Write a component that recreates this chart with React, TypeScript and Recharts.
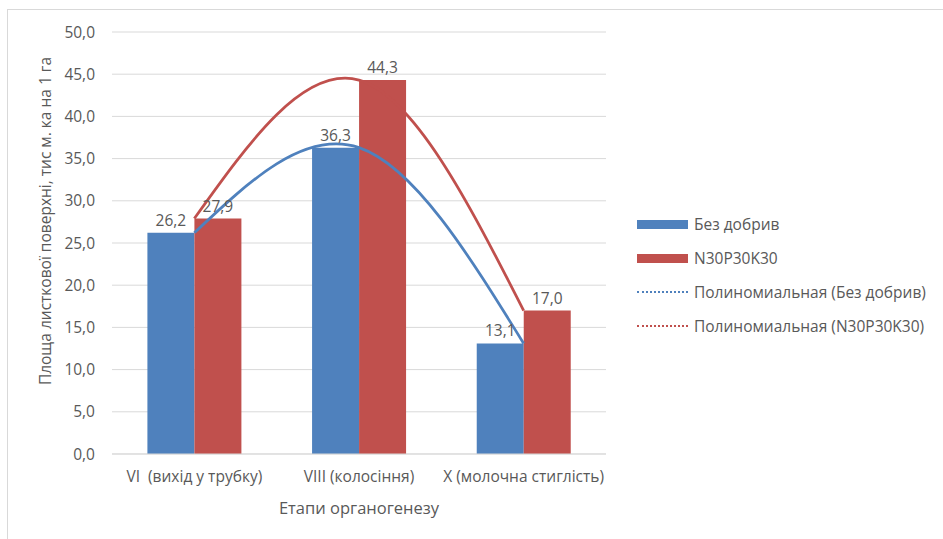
import { Bar, CartesianGrid, ComposedChart, LabelList, Line, XAxis, YAxis } from "recharts";

const stages = ["VI\u00A0 (вихід у трубку)", "VIII (колосіння)", "X (молочна стиглість)"];
const withoutFert = [26.2, 36.3, 13.1];
const npkFert = [27.9, 44.3, 17.0];
const yTicks = [0, 5, 10, 15, 20, 25, 30, 35, 40, 45, 50];

const BLUE = "#4F81BD";
const RED = "#C0504D";
const TEXT = "#595959";
const FONT = "'Open Sans', Lato, sans-serif";

const data = stages.map((stage, i) => ({
  stage,
  none: withoutFert[i],
  npk: npkFert[i],
}));

const fmt = (v: number) => v.toFixed(1).replace(".", ",");

const legendItems = [
  { label: "Без добрив", color: BLUE, dotted: false },
  { label: "N30P30K30", color: RED, dotted: false },
  { label: "Полиномиальная (Без добрив)", color: BLUE, dotted: true },
  { label: "Полиномиальная (N30P30K30)", color: RED, dotted: true },
];

function Legend() {
  return (
    <div style={{ position: "absolute", left: 637, top: 207 }}>
      {legendItems.map((item) => (
        <div key={item.label} style={{ display: "flex", alignItems: "center", height: 34 }}>
          {item.dotted ? (
            <div style={{ width: 51, borderTop: `2px dotted ${item.color}` }} />
          ) : (
            <div style={{ width: 51, height: 9, background: item.color }} />
          )}
          <span style={{ marginLeft: 6, fontSize: 15.5, color: TEXT }}>{item.label}</span>
        </div>
      ))}
    </div>
  );
}

export default function App() {
  return (
    <div
      style={{
        position: "absolute",
        left: 0,
        top: 0,
        width: 943,
        height: 539,
        background: "#fff",
        fontFamily: FONT,
        overflow: "hidden",
      }}
    >
      <div
        style={{
          position: "absolute",
          left: 7,
          top: 9,
          width: 960,
          height: 560,
          border: "1px solid #d9d9d9",
        }}
      />
      <ComposedChart
        width={943}
        height={539}
        data={data}
        margin={{ top: 32, right: 337, bottom: 55, left: 0 }}
        barCategoryGap="21.5%"
        barGap={0}
      >
        <CartesianGrid vertical={false} stroke="#d9d9d9" />
        <XAxis
          dataKey="stage"
          height={30}
          axisLine={{ stroke: "#d9d9d9" }}
          tickLine={false}
          tickSize={0}
          tickMargin={17}
          tick={{ fill: TEXT, fontSize: 15.5, fontFamily: FONT }}
        />
        <YAxis
          width={112}
          domain={[0, 50]}
          ticks={yTicks}
          axisLine={false}
          tickLine={false}
          tickSize={0}
          tickMargin={17}
          tickFormatter={fmt}
          tick={{ fill: TEXT, fontSize: 15.5, fontFamily: FONT }}
        />
        <Bar dataKey="none" fill={BLUE} isAnimationActive={false}>
          <LabelList dataKey="none" position="top" offset={7} formatter={fmt} fill={TEXT} fontSize={15.5} fontFamily={FONT} />
        </Bar>
        <Bar dataKey="npk" fill={RED} isAnimationActive={false}>
          <LabelList dataKey="npk" position="top" offset={7} formatter={fmt} fill={TEXT} fontSize={15.5} fontFamily={FONT} />
        </Bar>
        <Line type="natural" dataKey="none" stroke={BLUE} strokeWidth={2.75} dot={false} activeDot={false} isAnimationActive={false} />
        <Line type="natural" dataKey="npk" stroke={RED} strokeWidth={2.75} dot={false} activeDot={false} isAnimationActive={false} />
      </ComposedChart>
      <div
        style={{
          position: "absolute",
          left: 45,
          top: 221,
          transform: "translate(-50%, -50%) rotate(-90deg)",
          whiteSpace: "nowrap",
          fontSize: 15.5,
          color: TEXT,
        }}
      >
        Площа листкової поверхні, тис м. ка на 1 га
      </div>
      <div
        style={{
          position: "absolute",
          left: 359,
          top: 507,
          transform: "translate(-50%, -50%)",
          whiteSpace: "nowrap",
          fontSize: 16.5,
          color: TEXT,
        }}
      >
        Етапи органогенезу
      </div>
      <Legend />
    </div>
  );
}
